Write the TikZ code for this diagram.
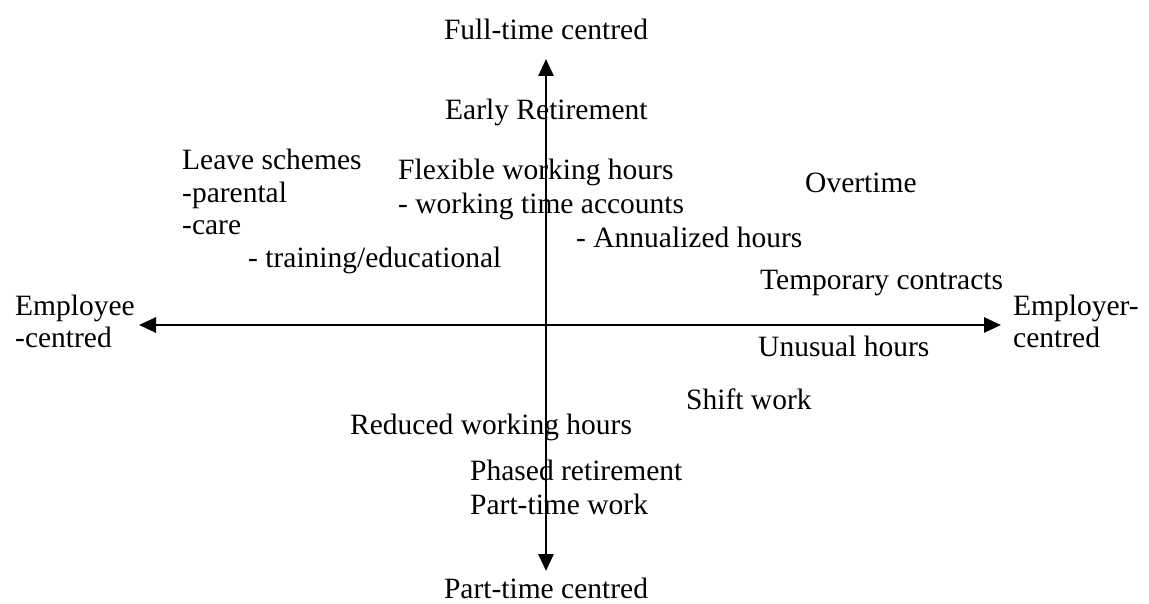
\documentclass[tikz,border=0pt]{standalone}
\usepackage{fontspec}
\setmainfont{Liberation Serif}
\usetikzlibrary{arrows.meta}
\begin{document}
\begin{tikzpicture}[x=1pt,y=1pt,
  lbl/.style={inner sep=0pt, anchor=base west, font=\fontsize{29.5}{34}\selectfont},
  clbl/.style={inner sep=0pt, anchor=base, font=\fontsize{29.5}{34}\selectfont},
  axis/.style={line width=2.8pt, {Triangle[length=17pt,width=15pt]}-{Triangle[length=17pt,width=15pt]}}]
\useasboundingbox (0,0) rectangle (1149,603);
% axis ends
\coordinate (L) at (139,278);
\coordinate (R) at (1001,278);
\coordinate (T) at (546,544);
\coordinate (B) at (546,32);
\draw[axis] (L) -- (R);
\draw[axis] (B) -- (T);
% axis labels
\node[clbl] (ft) at (546,563) {Full-time centred};
\node[clbl] (pt) at (546,5) {Part-time centred};
\node[lbl] (ee1) at (15,287) {Employee};
\node[lbl] (ee2) at (15,255) {-centred};
\node[lbl] (er1) at (1013,287) {Employer-};
\node[lbl] (er2) at (1013,255) {centred};
% items
\node[lbl] (early) at (445,483) {Early Retirement};
\node[lbl] (ls1) at (182,433) {Leave schemes};
\node[lbl] (ls2) at (182,400) {-parental};
\node[lbl] (ls3) at (182,368) {-care};
\node[lbl] (ls4) at (248,335) {- training/educational};
\node[lbl] (fw1) at (398,423) {Flexible working hours};
\node[lbl] (fw2) at (398,389) {- working time accounts};
\node[lbl] (fw3) at (576,355) {- Annualized hours};
\node[lbl] (ot) at (805,410) {Overtime};
\node[lbl] (tc) at (760,313) {Temporary contracts};
\node[lbl] (uh) at (758,246) {Unusual hours};
\node[lbl] (sw) at (686,193) {Shift work};
\node[lbl] (rw) at (350,168) {Reduced working hours};
\node[lbl] (pr) at (470,123) {Phased retirement};
\node[lbl] (pw) at (470,89) {Part-time work};
\end{tikzpicture}
\end{document}
